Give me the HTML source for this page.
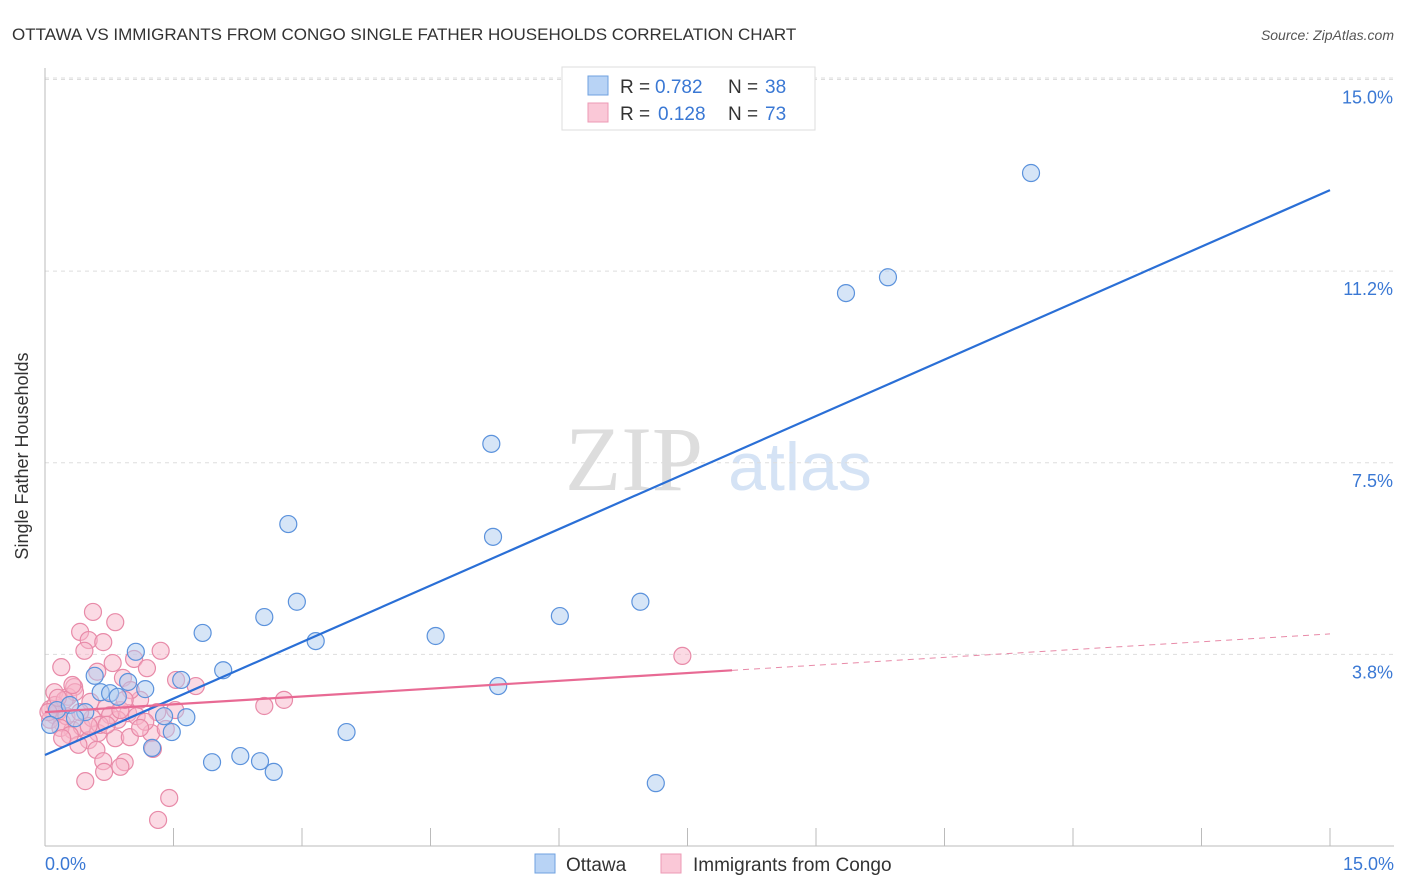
<!DOCTYPE html>
<html><head><meta charset="utf-8">
<style>
body{margin:0;background:#fff;font-family:"Liberation Sans",sans-serif;}
svg{display:block}
</style></head>
<body>
<svg id="chart" width="1406" height="892" viewBox="0 0 1406 892">
<text x="12" y="40" font-size="17" fill="#333">OTTAWA VS IMMIGRANTS FROM CONGO SINGLE FATHER HOUSEHOLDS CORRELATION CHART</text>
<text x="1394" y="40" font-size="14" fill="#555" font-style="italic" text-anchor="end">Source: ZipAtlas.com</text>
<g>
<text x="634" y="490" font-size="92" fill="#ddd" font-family="Liberation Serif,serif" text-anchor="middle">ZIP</text>
<text x="800" y="490" font-size="68" fill="#d5e3f5" text-anchor="middle">atlas</text>
</g>
<g id="grid"></g>
<g id="axes"></g>
<g id="pts"></g>
<g id="lines"></g>
<text x="28" y="456" font-size="18" fill="#333" text-anchor="middle" transform="rotate(-90 28 456)">Single Father Households</text>
<text x="45" y="870" font-size="18" fill="#3a78d4">0.0%</text>
<text x="1394" y="870" font-size="18" fill="#3a78d4" text-anchor="end">15.0%</text>
<g>
<rect x="562" y="67" width="253" height="63" fill="#fff" stroke="#ddd"/>
<rect x="588" y="76" width="20" height="19" fill="#b8d3f5" stroke="#6fa1e0"/>
<rect x="588" y="103" width="20" height="19" fill="#fac8d7" stroke="#ec9ab4"/>
<text x="620" y="93" font-size="19" fill="#333">R =</text>
<text x="655" y="93" font-size="19" fill="#3a78d4">0.782</text>
<text x="728" y="93" font-size="19" fill="#333">N =</text>
<text x="765" y="93" font-size="19" fill="#3a78d4">38</text>
<text x="620" y="120" font-size="19" fill="#333">R =</text>
<text x="658" y="120" font-size="19" fill="#3a78d4">0.128</text>
<text x="728" y="120" font-size="19" fill="#333">N =</text>
<text x="765" y="120" font-size="19" fill="#3a78d4">73</text>
</g>
<g>
<rect x="535" y="854" width="20" height="19" fill="#b8d3f5" stroke="#6fa1e0"/>
<text x="566" y="871" font-size="19" fill="#333">Ottawa</text>
<rect x="661" y="854" width="20" height="19" fill="#fac8d7" stroke="#ec9ab4"/>
<text x="693" y="871" font-size="19" fill="#333">Immigrants from Congo</text>
</g>
</svg>
<script>
const yTicks=[3.75,7.5,11.25,15];
const yTickLabels=["3.8%","7.5%","11.2%","15.0%"];
const xTicks=[1.5,3,4.5,6,7.5,9,10.5,12,13.5,15];
const ottawaX=[11.51,9.35,9.84,5.21,5.23,2.84,2.94,2.56,3.16,1.84,4.56,6.01,6.95,5.29,3.52,7.13,2.08,1.59,1.06,1.17,0.97,0.58,0.65,0.76,0.85,1.65,1.48,1.39,1.25,1.95,2.28,2.51,2.67,0.14,0.29,0.47,0.35,0.06];
const ottawaY=[13.17,10.82,11.13,7.87,6.05,6.30,4.78,4.48,4.01,4.17,4.11,4.50,4.78,3.13,2.23,1.23,3.44,3.25,3.80,3.07,3.21,3.33,3.01,2.99,2.92,2.52,2.23,2.54,1.92,1.64,1.76,1.66,1.45,2.66,2.76,2.62,2.50,2.37];
const congoX=[7.44,2.79,2.56,1.35,0.56,0.82,0.41,0.51,0.68,0.46,0.19,0.79,0.61,1.04,1.19,1.53,1.76,0.91,0.34,0.11,0.27,0.53,0.71,0.97,1.07,1.31,0.85,0.11,0.20,0.32,0.43,0.62,0.82,0.99,1.24,1.41,0.51,0.39,0.60,1.26,0.68,0.93,0.88,0.69,0.47,1.45,1.32,0.06,0.15,0.25,0.06,0.18,0.12,0.35,0.23,0.76,1.11,0.88,0.55,0.29,0.41,0.64,1.17,1.00,0.32,0.15,0.51,0.04,0.20,0.72,0.93,1.52,1.11];
const congoY=[3.72,2.86,2.74,3.82,4.58,4.38,4.19,4.03,3.99,3.82,3.50,3.58,3.41,3.66,3.48,3.25,3.13,3.29,3.11,3.01,2.92,2.82,2.70,2.60,2.54,2.62,2.47,2.56,2.41,2.27,2.33,2.21,2.11,2.13,2.21,2.29,2.07,1.98,1.88,1.90,1.66,1.64,1.55,1.45,1.27,0.94,0.51,2.68,2.62,2.54,2.47,2.31,2.76,3.01,2.86,2.56,2.86,2.66,2.50,2.17,2.62,2.37,2.43,3.05,3.15,2.90,2.35,2.62,2.11,2.37,2.86,2.66,2.31];
const ottawaTrend=[1.78,0.737];
const congoTrend=[2.62,0.102];
const congoSolidEnd=8.02;

const NS="http://www.w3.org/2000/svg";
const X=v=>45+v*(1285/15);
const Y=v=>846-v*51.1;
function mk(tag,attrs,parent){const e=document.createElementNS(NS,tag);for(const k in attrs)e.setAttribute(k,attrs[k]);document.getElementById(parent).appendChild(e);return e;}

yTicks.forEach((t,i)=>{
 const l=mk('line',{x1:45,x2:1394,y1:Y(t),y2:Y(t),stroke:'#ddd','stroke-dasharray':'4,4'},'grid');
 
 
 const tx=mk('text',{x:1393,y:Y(t)+24,'font-size':18,fill:'#3a78d4','text-anchor':'end'},'grid');
 tx.textContent=yTickLabels[i];
 
 
});
const topGrid=mk('line',{x1:45,x2:1394,y1:78,y2:78,stroke:'#ddd','stroke-dasharray':'4,4'},'grid');


const ya=mk('line',{x1:45,x2:45,y1:68,y2:846,stroke:'#bbb'},'axes');


const xa=mk('line',{x1:45,x2:1394,y1:846,y2:846,stroke:'#bbb'},'axes');


xTicks.forEach(t=>{
 const l=mk('line',{x1:X(t),x2:X(t),y1:828,y2:846,stroke:'#bbb'},'axes');
 
 
});

function dot(x,y,fill,stroke,name){
 const c=mk('circle',{cx:X(x),cy:Y(y),r:8.5,fill:fill,'fill-opacity':0.5,stroke:stroke,'stroke-width':1.2},'pts');
 
 
}
congoX.forEach((x,i)=>dot(x,congoY[i],'#f7b6ca','#e88aa8','congo-point'));
ottawaX.forEach((x,i)=>dot(x,ottawaY[i],'#aecbf0','#5b92dc','ottawa-point'));

const bl=mk('line',{x1:X(0),y1:Y(ottawaTrend[0]),x2:X(15),y2:Y(ottawaTrend[0]+15*ottawaTrend[1]),stroke:'#2a6fd6','stroke-width':2.2},'lines');


const pl=mk('line',{x1:X(0),y1:Y(congoTrend[0]),x2:X(congoSolidEnd),y2:Y(congoTrend[0]+congoSolidEnd*congoTrend[1]),stroke:'#e86a94','stroke-width':2.2},'lines');


const pd=mk('line',{x1:X(congoSolidEnd),y1:Y(congoTrend[0]+congoSolidEnd*congoTrend[1]),x2:X(15),y2:Y(congoTrend[0]+15*congoTrend[1]),stroke:'#e88aa8','stroke-width':1,'stroke-dasharray':'6,5'},'lines');


</script>
</body></html>
